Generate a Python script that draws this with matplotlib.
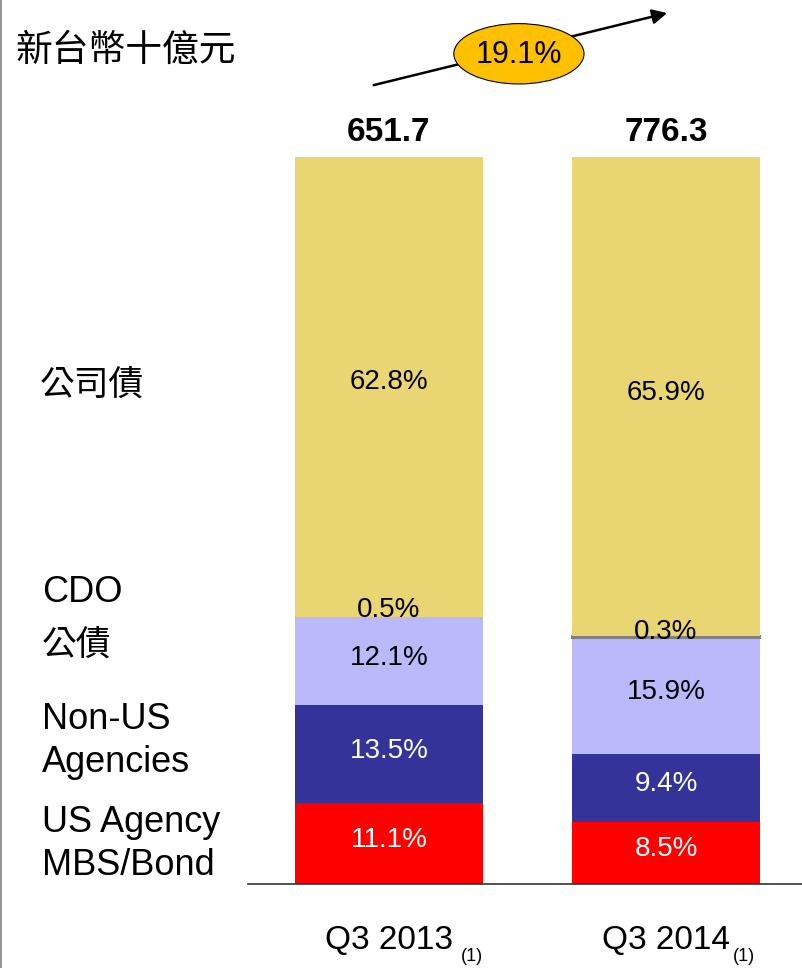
import numpy as np
import matplotlib
matplotlib.use('Agg')
from matplotlib import pyplot as plt
from matplotlib.patches import Ellipse
from matplotlib.lines import Line2D

plt.rcParams['font.family'] = ['Liberation Sans', 'Noto Sans CJK TC', 'DejaVu Sans']

# data
periods = ['Q3 2013', 'Q3 2014']
totals = [651.7, 776.3]          # 新台幣十億元
growth = '19.1%'
us_agency = [11.1, 8.5]
non_us = [13.5, 9.4]
gov = [12.1, 15.9]
cdo = [0.5, 0.3]
corp = [62.8, 65.9]

segments = [us_agency, non_us, gov, cdo, corp]
seg_colors = ['#FF0000', '#333399', '#B9B9FB', None, '#E9D672']
cdo_colors = ['#E9D672', '#808080']   # CDO slice only shows up as a grey line in 2014
txt_colors = ['white', 'white', 'black', 'black', 'black']

fig = plt.figure(figsize=(8.02, 9.68), dpi=100)
ax = fig.add_axes([248/802, 84/968, 554/802, 884/968])

x = np.arange(len(periods))
w = 0.68
bottom = np.zeros(len(periods))
for i, vals in enumerate(segments):
	vals = np.array(vals)
	if seg_colors[i] is None:
		ax.bar(x, vals, w, bottom=bottom, color=cdo_colors, edgecolor=cdo_colors, linewidth=[0, 1.5])
	else:
		ax.bar(x, vals, w, bottom=bottom, color=seg_colors[i], linewidth=0)
	for j in range(len(x)):
		if seg_colors[i] is None:
			ypos = bottom[j] + vals[j] + 0.5
		else:
			ypos = bottom[j] + vals[j]/2 + 0.5
		ax.text(x[j], ypos, f'{vals[j]:.1f}%', ha='center', va='center',
			fontsize=20, color=txt_colors[i], zorder=4)
	bottom += vals

# totals above bars
for j in range(len(x)):
	ax.text(x[j], bottom[j] + 1.2, f'{totals[j]:.1f}', ha='center', va='bottom',
		fontsize=24, fontweight='bold')

# period labels with footnote marker
for j, p in enumerate(periods):
	t = ax.text(x[j], -7.8, p, ha='center', va='center', fontsize=24)
	ax.annotate('(1)', xy=(1, 0), xycoords=t, xytext=(6 if j == 0 else 2, 0),
		textcoords='offset points', ha='left', va='center', fontsize=13)

# growth arrow + ellipse
ax.annotate('', xy=(1.014, 119.9), xytext=(-0.065, 109.8),
	arrowprops=dict(arrowstyle='-|>', color='black', lw=1.8, mutation_scale=22))
ax.add_patch(Ellipse((0.469, 114.2), 0.47, 8.3, facecolor='#FFC000',
	edgecolor='black', lw=0.8, zorder=5))
ax.text(0.469, 114.1, growth, ha='center', va='center', fontsize=22, zorder=6)

ax.set_xlim(-0.509, 1.491)
ax.set_ylim(0, 121.6)
for s in ['top', 'right', 'left']:
	ax.spines[s].set_visible(False)
ax.spines['bottom'].set_color('#333333')
ax.spines['bottom'].set_linewidth(1.2)
ax.set_xticks([])
ax.set_yticks([])
ax.patch.set_alpha(0)

# left side labels
cjk = ['Noto Sans CJK TC', 'DejaVu Sans']
fig.text(15/802, 1 - 50/968, '新台幣十億元', fontsize=26.5, family=cjk, va='center', ha='left')
fig.text(40/802, 1 - 385/968, '公司債', fontsize=25, family=cjk, va='center', ha='left')
fig.text(42/802, 1 - 592/968, 'CDO', fontsize=26, va='center', ha='left')
fig.text(42/802, 1 - 645/968, '公債', fontsize=25, family=cjk, va='center', ha='left')
fig.text(42/802, 1 - 741/968, 'Non-US\nAgencies', fontsize=26, va='center', ha='left', linespacing=1.3)
fig.text(42/802, 1 - 844/968, 'US Agency\nMBS/Bond', fontsize=26, va='center', ha='left', linespacing=1.3)

fig.add_artist(Line2D([0.001, 0.001], [0, 1], transform=fig.transFigure, color='#808080', lw=1.2))

plt.savefig('out.png', dpi=100)
